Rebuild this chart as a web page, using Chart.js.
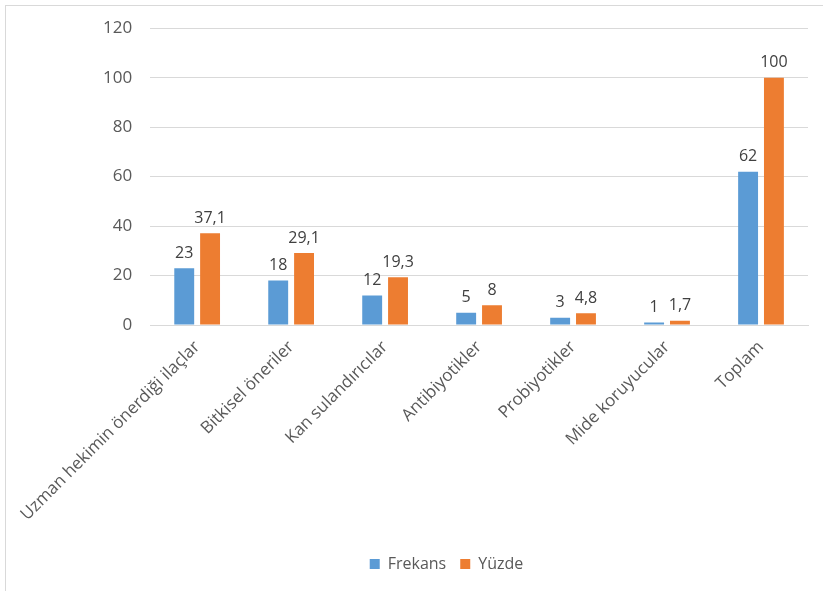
<!DOCTYPE html>
<html>
<head>
<meta charset="utf-8">
<script src="https://cdn.jsdelivr.net/npm/chart.js@4/dist/chart.umd.min.js"></script>
<style>
  html, body { margin: 0; padding: 0; background: #fff; }
  #frame { position: absolute; left: 5px; top: 5px; width: 840px; height: 600px; border: 1px solid #d9d9d9; }
  #wrap { position: absolute; left: 0; top: 0; width: 823px; height: 591px; }
</style>
</head>
<body>
<div id="frame"></div>
<div id="wrap"><canvas id="myChart"></canvas></div>
<script>
(function () {
  'use strict';

  var categories = ['Uzman hekimin önerdiği ilaçlar', 'Bitkisel öneriler', 'Kan sulandırıcılar',
    'Antibiyotikler', 'Probiyotikler', 'Mide koruyucular', 'Toplam'];
  var frekans = [23, 18, 12, 5, 3, 1, 62];
  var yuzde = [37.1, 29.1, 19.3, 8, 4.8, 1.7, 100];
  var yTicks = [0, 20, 40, 60, 80, 100, 120];

  var font = '"Open Sans", "DejaVu Sans", sans-serif';

  // value labels above each bar, decimal comma like the original
  var valueLabels = {
    id: 'valueLabels',
    afterDatasetsDraw: function (chart) {
      var ctx = chart.ctx;
      ctx.save();
      ctx.font = '16px ' + font;
      ctx.fillStyle = '#404040';
      ctx.textAlign = 'center';
      ctx.textBaseline = 'bottom';
      chart.data.datasets.forEach(function (ds, i) {
        chart.getDatasetMeta(i).data.forEach(function (bar, j) {
          var txt = String(ds.data[j]).replace('.', ',');
          ctx.fillText(txt, bar.x, bar.y - 7);
        });
      });
      ctx.restore();
    }
  };

  var ctx = document.getElementById('myChart').getContext('2d');
  var myChart = new Chart(ctx, {
    type: 'bar',
    data: {
      labels: categories,
      datasets: [{
        label: 'Frekans',
        data: frekans,
        backgroundColor: '#5b9bd5',
        barPercentage: 0.77,
        categoryPercentage: 0.55
      }, {
        label: 'Yüzde',
        data: yuzde,
        backgroundColor: '#ed7d31',
        barPercentage: 0.77,
        categoryPercentage: 0.55
      }]
    },
    options: {
      responsive: true,
      maintainAspectRatio: false,
      animation: false,
      layout: { padding: { left: 85, right: 15, top: 24, bottom: 9 } },
      plugins: {
        legend: {
          position: 'bottom',
          // empty title just to leave room above the legend row
          title: { display: true, text: ' ', padding: 6, font: { size: 1 } },
          labels: {
            boxWidth: 10,
            boxHeight: 10,
            padding: 14,
            color: '#595959',
            font: { family: font, size: 16 }
          }
        },
        tooltip: { enabled: false }
      },
      scales: {
        x: {
          grid: { display: false },
          border: { color: '#d9d9d9' },
          ticks: {
            maxRotation: 45,
            minRotation: 45,
            color: '#595959',
            padding: 4,
            font: { family: font, size: 17 }
          }
        },
        y: {
          min: 0,
          max: 120,
          afterBuildTicks: function (axis) {
            axis.ticks = yTicks.map(function (v) { return { value: v }; });
          },
          grid: { color: '#d9d9d9', drawTicks: false },
          border: { display: false },
          ticks: {
            color: '#595959',
            padding: 18,
            font: { family: font, size: 17 }
          }
        }
      }
    },
    plugins: [valueLabels]
  });
})();
</script>
</body>
</html>
